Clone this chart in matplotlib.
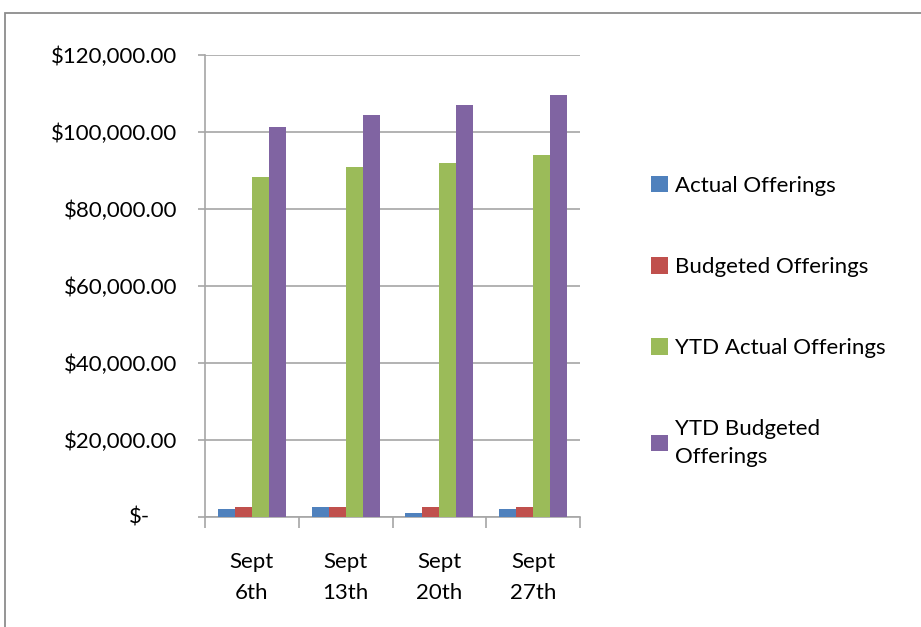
import numpy as np
import matplotlib
matplotlib.use("Agg")
import matplotlib.pyplot as plt
from matplotlib.patches import Rectangle
from matplotlib.ticker import FuncFormatter

categories = ["Sept\n6th", "Sept\n13th", "Sept\n20th", "Sept\n27th"]
series_names = ["Actual Offerings", "Budgeted Offerings", "YTD Actual Offerings", "YTD Budgeted\nOfferings"]
actual = [2000, 2600, 950, 2000]
budgeted = [2600, 2600, 2600, 2600]
ytd_actual = [88300, 90900, 91950, 94000]
ytd_budgeted = [101300, 104400, 107000, 109600]
colors = ["#4F81BD", "#C0504D", "#9BBB59", "#8064A2"]

plt.rcParams['font.family'] = ['Lato', 'DejaVu Sans']
fs = 16
fig = plt.figure(figsize=(9.21, 6.27), dpi=100)
ax = fig.add_axes([205/921, 1-517/627, 375/921, 462/627])

# outer chart border
fig.patches.append(Rectangle((5/921, -0.1), 1.2, 1-13/627+0.1, transform=fig.transFigure,
                             fill=False, edgecolor="#8c8c8c", linewidth=1.3))

x = np.arange(len(categories))
w = 1/5.5
data = [actual, budgeted, ytd_actual, ytd_budgeted]
for i, vals in enumerate(data):
    ax.bar(x + (i - 1.5)*w, vals, width=w, color=colors[i], label=series_names[i], zorder=3)

ax.set_xlim(-0.5, len(categories) - 0.5)
ax.set_ylim(0, 120000)
ax.set_yticks(np.arange(0, 120001, 20000))
ax.yaxis.set_major_formatter(FuncFormatter(lambda v, p: "" if v == 0 else "${:,.2f}".format(v)))
# zero label in accounting style
ax.text(-0.147, 0, "$-", transform=ax.get_yaxis_transform(), ha="right", va="center",
        fontsize=fs, color="black")
ax.grid(axis="y", color="#a6a6a6", linewidth=1.2, zorder=0)
ax.set_xticks(np.arange(-0.5, len(categories), 1))
ax.set_xticklabels([])
ax.set_xticks(x, minor=True)
ax.set_xticklabels(categories, minor=True, fontsize=fs, linespacing=1.7)
ax.tick_params(axis="x", which="minor", length=0, pad=25)
ax.tick_params(axis="x", which="major", length=8, color="#a6a6a6", width=1.2)
ax.tick_params(axis="y", length=5, color="#a6a6a6", width=1.2, labelsize=fs, pad=15)
for s in ["top", "right"]:
    ax.spines[s].set_visible(False)
for s in ["left", "bottom"]:
    ax.spines[s].set_color("#a6a6a6")
    ax.spines[s].set_linewidth(1.2)

leg = fig.legend(loc="upper left", bbox_to_anchor=(631/921, 1-156/627), frameon=False,
                 fontsize=fs, handlelength=0.75, handleheight=0.75, handletextpad=0.35,
                 labelspacing=2.75)
for t in leg.get_texts():
    t.set_linespacing(1.45)

fig.savefig("out.png", dpi=100, facecolor="white")
